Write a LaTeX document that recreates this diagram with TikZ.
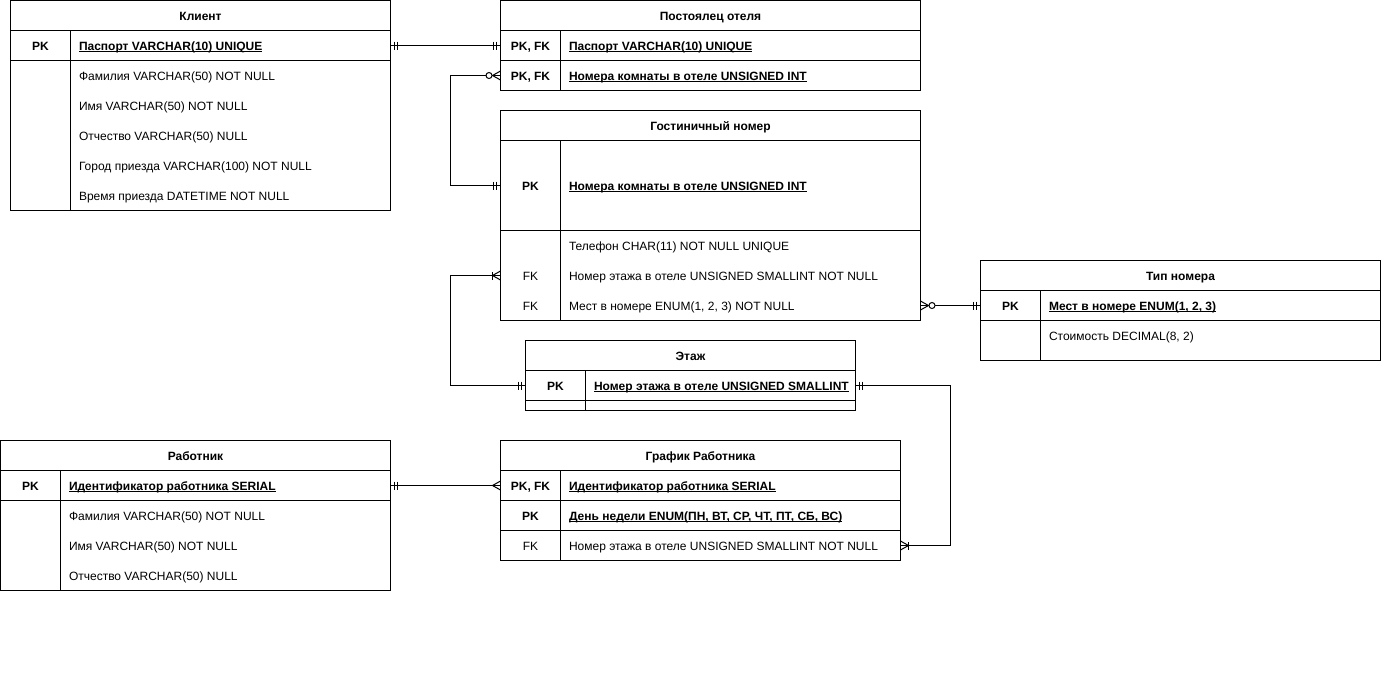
\documentclass[tikz,border=0pt]{standalone}
\usepackage{fontspec}
\setmainfont{Liberation Sans}
\usetikzlibrary{decorations.markings}

\newcommand\keyname[1]{\underline{\smash{#1}}}
% crow's foot ends, drawn for a box at x=0
\newcommand\ermandone{\draw (-4,-4) -- (-4,4) (-7,-4) -- (-7,4);}
\newcommand\ercrow{\draw (0,-4.5) -- (-8,0) -- (0,4.5);}
\newcommand\erzeromany{\ercrow\draw[fill=white] (-11.5,0) circle (3);}
\newcommand\eronemany{\ercrow\draw (-8,-4) -- (-8,4);}

\tikzset{
  tbl/.style={draw,line width=1pt,inner sep=0,outer sep=0},
  txt/.style={inner sep=0,text height=9pt,text depth=0pt},
  head/.style={txt,font=\fontsize{12}{14}\selectfont\bfseries},
  pkey/.style={txt,font=\fontsize{12}{14}\selectfont\bfseries},
  fkey/.style={txt,font=\fontsize{12}{14}\selectfont},
  attr/.style={txt,anchor=west,font=\fontsize{12}{14}\selectfont},
  keyattr/.style={attr,font=\fontsize{12}{14}\selectfont\bfseries},
  rel/.style={line width=1pt},
  start one/.style={postaction={decorate,decoration={markings,mark=at position 0 with {\begin{scope}[xscale=-1]\ermandone\end{scope}}}}},
  start zeromany/.style={postaction={decorate,decoration={markings,mark=at position 0 with {\begin{scope}[xscale=-1]\erzeromany\end{scope}}}}},
  start onemany/.style={postaction={decorate,decoration={markings,mark=at position 0 with {\begin{scope}[xscale=-1]\eronemany\end{scope}}}}},
  end one/.style={postaction={decorate,decoration={markings,mark=at position 1 with {\ermandone}}}},
  end onemany/.style={postaction={decorate,decoration={markings,mark=at position 1 with {\eronemany}}}},
  end many/.style={postaction={decorate,decoration={markings,mark=at position 1 with {\ercrow}}}},
}

\begin{document}
\begin{tikzpicture}[x=1pt,y=-1pt,line width=1pt]
    \useasboundingbox (-0.5,-0.5) rectangle (1380.5,680.5);

    % Клиент
    \node[tbl,minimum width=380,minimum height=210] (klient) at (200,105) {};
    \node[head] (klient-head) at (200,15) {Клиент};
    \draw (10,30) -- (390,30) (10,60) -- (390,60) (70,30) -- (70,210);
    \node[pkey] (klient-k) at (40,45) {PK};
    \node[keyattr] (klient-pk) at (78,45) {\keyname{Паспорт VARCHAR(10) UNIQUE}};
    \foreach \t [count=\i] in {Фамилия VARCHAR(50) NOT NULL, Имя VARCHAR(50) NOT NULL,
        Отчество VARCHAR(50) NULL, Город приезда VARCHAR(100) NOT NULL, Время приезда DATETIME NOT NULL}
        \node[attr] (klient-a\i) at (78,45+30*\i) {\t};

    % Постоялец отеля
    \node[tbl,minimum width=420,minimum height=90] (postoyal) at (710,45) {};
    \node[head] (postoyal-head) at (710,15) {Постоялец отеля};
    \draw (500,30) -- (920,30) (500,60) -- (920,60) (560,30) -- (560,90);
    \node[pkey] (postoyal-k1) at (530,45) {PK, FK};
    \node[pkey] (postoyal-k2) at (530,75) {PK, FK};
    \node[keyattr] (postoyal-pasp) at (568,45) {\keyname{Паспорт VARCHAR(10) UNIQUE}};
    \node[keyattr] (postoyal-room) at (568,75) {\keyname{Номера комнаты в отеле UNSIGNED INT}};

    % Гостиничный номер
    \node[tbl,minimum width=420,minimum height=210] (nomer) at (710,215) {};
    \node[head] (nomer-head) at (710,125) {Гостиничный номер};
    \draw (500,140) -- (920,140) (500,230) -- (920,230) (560,140) -- (560,320);
    \node[pkey] (nomer-k) at (530,185) {PK};
    \node[keyattr] (nomer-pk) at (568,185) {\keyname{Номера комнаты в отеле UNSIGNED INT}};
    \node[attr] (nomer-tel) at (568,245) {Телефон CHAR(11) NOT NULL UNIQUE};
    \node[fkey] (nomer-k2) at (530,275) {FK};
    \node[attr] (nomer-floor) at (568,275) {Номер этажа в отеле UNSIGNED SMALLINT NOT NULL};
    \node[fkey] (nomer-k3) at (530,305) {FK};
    \node[attr] (nomer-mest) at (568,305) {Мест в номере ENUM(1, 2, 3) NOT NULL};

    % Тип номера
    \node[tbl,minimum width=400,minimum height=100] (tip) at (1180,310) {};
    \node[head] (tip-head) at (1180,275) {Тип номера};
    \draw (980,290) -- (1380,290) (980,320) -- (1380,320) (1040,290) -- (1040,360);
    \node[pkey] (tip-k) at (1010,305) {PK};
    \node[keyattr] (tip-pk) at (1048,305) {\keyname{Мест в номере ENUM(1, 2, 3)}};
    \node[attr] (tip-cost) at (1048,335) {Стоимость DECIMAL(8, 2)};

    % Этаж
    \node[tbl,minimum width=330,minimum height=70] (etazh) at (690,375) {};
    \node[head] (etazh-head) at (690,355) {Этаж};
    \draw (525,370) -- (855,370) (525,400) -- (855,400) (585,370) -- (585,410);
    \node[pkey] (etazh-k) at (555,385) {PK};
    \node[keyattr] (etazh-pk) at (593,385) {\keyname{Номер этажа в отеле UNSIGNED SMALLINT}};

    % Работник
    \node[tbl,minimum width=390,minimum height=150] (rabotnik) at (195,515) {};
    \node[head] (rabotnik-head) at (195,455) {Работник};
    \draw (0,470) -- (390,470) (0,500) -- (390,500) (60,470) -- (60,590);
    \node[pkey] (rabotnik-k) at (30,485) {PK};
    \node[keyattr] (rabotnik-pk) at (68,485) {\keyname{Идентификатор работника SERIAL}};
    \foreach \t [count=\i] in {Фамилия VARCHAR(50) NOT NULL, Имя VARCHAR(50) NOT NULL, Отчество VARCHAR(50) NULL}
        \node[attr] (rabotnik-a\i) at (68,485+30*\i) {\t};

    % График Работника
    \node[tbl,minimum width=400,minimum height=120] (grafik) at (700,500) {};
    \node[head] (grafik-head) at (700,455) {График Работника};
    \draw (500,470) -- (900,470) (500,500) -- (900,500) (500,530) -- (900,530) (560,470) -- (560,560);
    \node[pkey] (grafik-k1) at (530,485) {PK, FK};
    \node[pkey] (grafik-k2) at (530,515) {PK};
    \node[fkey] (grafik-k3) at (530,545) {FK};
    \node[keyattr] (grafik-id) at (568,485) {\keyname{Идентификатор работника SERIAL}};
    \node[keyattr] (grafik-day) at (568,515) {\keyname{День недели ENUM(ПН, ВТ, СР, ЧТ, ПТ, СБ, ВС)}};
    \node[attr] (grafik-floor) at (568,545) {Номер этажа в отеле UNSIGNED SMALLINT NOT NULL};

    % связи
    \draw[rel,start one,end one] (klient.east |- klient-pk) -- (postoyal.west |- postoyal-pasp);
    \draw[rel,start zeromany,end one] (postoyal.west |- postoyal-room) -- ++(-50,0) |- (nomer.west |- nomer-pk);
    \draw[rel,start onemany,end one] (nomer.west |- nomer-floor) -- ++(-50,0) |- (etazh.west |- etazh-pk);
    \draw[rel,start zeromany,end one] (nomer.east |- nomer-mest) -- (tip.west |- tip-pk);
    \draw[rel,start one,end onemany] (etazh.east |- etazh-pk) -- ++(95,0) |- (grafik.east |- grafik-floor);
    \draw[rel,start one,end many] (rabotnik.east |- rabotnik-pk) -- (grafik.west |- grafik-id);
\end{tikzpicture}
\end{document}
